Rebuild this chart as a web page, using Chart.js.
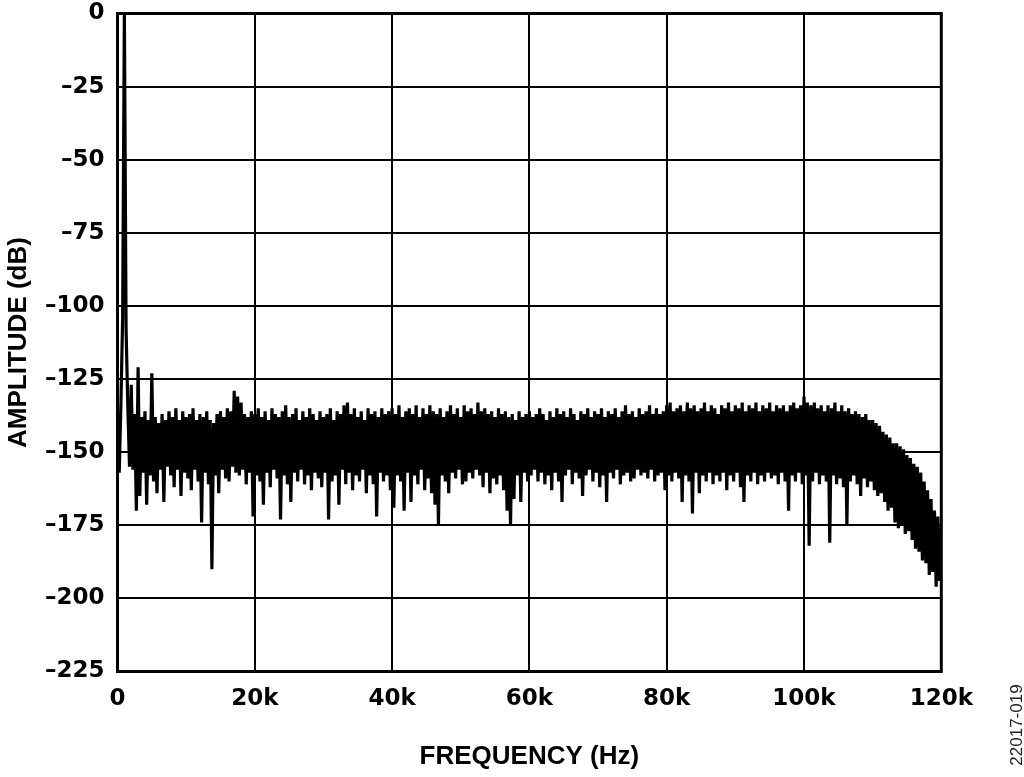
<!DOCTYPE html>
<html>
<head>
<meta charset="utf-8">
<script src="https://cdn.jsdelivr.net/npm/chart.js@4/dist/chart.umd.min.js"></script>
<style>
html,body{margin:0;padding:0;background:#fff;}
#wrap{width:1024px;height:777px;position:relative;}
</style>
</head>
<body>
<div id="wrap"><canvas id="c" width="1024" height="777"></canvas></div>
<script>
// FFT bin spacing (Hz): each array below holds consecutive 250 Hz bins
const BIN_HZ = 250;
const xTickValues = [0, 20000, 40000, 60000, 80000, 100000, 120000];
const yTickValues = [0, -25, -50, -75, -100, -125, -150, -175, -200, -225];
const xTitle = 'FREQUENCY (Hz)';
const yTitle = 'AMPLITUDE (dB)';
const figureId = '22017-019';

// amplitude (dB), bins 0 .. 19.75 kHz
const amp0to20k = [
-140,-157,-133,-104,0,-108,-134,-155,-127,-156,-137,-170,-121,-165,-138,-157,-136,-168,-139,-158,
-123,-160,-138,-164,-140,-156,-137,-167,-139,-155,-136,-158,-138,-162,-135,-156,-139,-165,-136,-157,
-138,-159,-137,-163,-135,-156,-139,-160,-137,-174,-138,-157,-136,-161,-139,-190,-140,-158,-137,-164,
-136,-156,-138,-159,-135,-160,-136,-155,-129,-157,-131,-158,-133,-156,-137,-161,-138,-157,-136,-172
];
// amplitude (dB), bins 20 .. 39.75 kHz
const amp20to40k = [
-137,-158,-135,-160,-138,-168,-136,-157,-139,-162,-135,-156,-137,-159,-138,-173,-136,-158,-134,-161,
-138,-167,-137,-157,-135,-160,-139,-156,-136,-161,-138,-158,-135,-163,-137,-157,-139,-159,-136,-162,
-138,-157,-137,-173,-135,-160,-139,-158,-136,-168,-137,-156,-134,-161,-133,-157,-137,-163,-135,-158,
-138,-160,-136,-156,-139,-164,-135,-158,-137,-161,-136,-172,-138,-157,-135,-160,-137,-158,-136,-163
];
// amplitude (dB), bins 40 .. 59.75 kHz
const amp40to60k = [
-135,-169,-137,-158,-134,-160,-138,-170,-136,-157,-135,-167,-137,-158,-134,-161,-138,-156,-135,-163,
-137,-159,-134,-164,-136,-168,-137,-175,-135,-158,-138,-160,-136,-164,-134,-157,-137,-159,-135,-156,
-138,-161,-134,-160,-136,-157,-135,-159,-137,-156,-133,-158,-136,-162,-135,-157,-137,-164,-136,-159,
-138,-161,-135,-158,-137,-163,-136,-170,-138,-175,-137,-166,-139,-158,-136,-167,-138,-157,-137,-160
];
// amplitude (dB), bins 60 .. 79.75 kHz
const amp60to80k = [
-136,-158,-138,-156,-137,-160,-135,-157,-137,-161,-139,-158,-136,-163,-138,-157,-135,-160,-137,-167,
-136,-158,-138,-156,-135,-161,-137,-157,-139,-159,-136,-165,-137,-158,-135,-156,-138,-160,-136,-157,
-137,-162,-135,-158,-138,-167,-136,-157,-137,-159,-135,-156,-138,-161,-136,-158,-134,-157,-137,-160,
-136,-159,-138,-156,-135,-158,-137,-157,-136,-159,-134,-156,-137,-160,-135,-158,-137,-157,-136,-163
];
// amplitude (dB), bins 80 .. 99.75 kHz
const amp80to100k = [
-134,-158,-133,-160,-136,-157,-135,-159,-134,-167,-136,-158,-133,-160,-135,-171,-134,-157,-136,-164,
-135,-158,-133,-160,-136,-157,-134,-161,-135,-158,-137,-160,-134,-157,-135,-163,-133,-158,-136,-160,
-134,-157,-135,-162,-133,-167,-136,-158,-134,-160,-135,-157,-133,-161,-136,-158,-134,-160,-135,-157,
-133,-159,-136,-158,-134,-161,-135,-157,-134,-160,-136,-170,-134,-158,-133,-160,-135,-157,-134,-161
];
// amplitude (dB), bins 100 .. 120 kHz
const amp100to120k = [
-131,-158,-133,-182,-134,-160,-133,-157,-135,-161,-134,-158,-136,-160,-134,-181,-135,-158,-133,-161,
-136,-159,-134,-162,-136,-175,-135,-160,-137,-158,-136,-161,-137,-165,-138,-159,-137,-162,-139,-160,
-139,-163,-140,-165,-141,-164,-143,-167,-144,-170,-145,-169,-147,-174,-147,-176,-148,-175,-149,-178,
-151,-177,-152,-180,-154,-183,-155,-184,-157,-187,-160,-188,-163,-192,-166,-191,-170,-196,-172,-194,
-176
];

const amplitudes = [].concat(amp0to20k, amp20to40k, amp40to60k, amp60to80k, amp80to100k, amp100to120k);
const points = amplitudes.map((a, i) => ({ x: i * BIN_HZ, y: a }));

const TICK_FONT = { family: '"DejaVu Sans", "Liberation Sans", Arial, sans-serif', size: 23, weight: 'bold' };
const TITLE_FONT = { family: '"Liberation Sans", Arial, sans-serif', size: 26, weight: 'bold', lineHeight: 1.2 };

const frame = {
  id: 'frame',
  afterDatasetsDraw(chart) {
    const { ctx, chartArea: a } = chart;
    ctx.save();
    ctx.strokeStyle = '#000';
    ctx.lineWidth = 3;
    ctx.strokeRect(a.left, a.top, a.right - a.left, a.bottom - a.top);
    ctx.restore();
  },
  afterDraw(chart) {
    const { ctx } = chart;
    ctx.save();
    ctx.translate(1017, 725);
    ctx.rotate(-Math.PI / 2);
    ctx.fillStyle = '#222';
    ctx.font = '17px "Liberation Sans", Arial, sans-serif';
    ctx.textAlign = 'center';
    ctx.textBaseline = 'middle';
    ctx.fillText(figureId, 0, 0);
    ctx.restore();
  }
};

new Chart(document.getElementById('c'), {
  type: 'line',
  data: {
    datasets: [{
      data: points,
      borderColor: '#000',
      borderWidth: 3.2,
      borderJoinStyle: 'miter',
      pointRadius: 0,
      tension: 0,
      fill: false
    }]
  },
  options: {
    responsive: false,
    animation: false,
    events: [],
    parsing: false,
    normalized: true,
    layout: { padding: { top: 13.5, right: 82.7, left: 0, bottom: 0 } },
    plugins: { legend: { display: false }, tooltip: { enabled: false } },
    scales: {
      x: {
        type: 'linear',
        min: 0, max: 120000,
        afterFit(s) { s.height = 105.5; s.paddingLeft = 0; s.paddingRight = 0; },
        afterBuildTicks(s) { s.ticks = xTickValues.map(v => ({ value: v })); },
        grid: { color: '#000', lineWidth: 2, drawTicks: false },
        border: { display: true, color: '#000', width: 3 },
        ticks: {
          padding: 14,
          color: '#000',
          font: TICK_FONT,
          maxRotation: 0,
          autoSkip: false,
          callback: v => v === 0 ? '0' : (v / 1000) + 'k'
        },
        title: { display: true, text: xTitle, color: '#000', font: TITLE_FONT, padding: { top: 0, bottom: 5 } }
      },
      y: {
        type: 'linear',
        min: -225, max: 0,
        afterFit(s) { s.width = 117.5; s.paddingTop = 0; s.paddingBottom = 0; },
        afterBuildTicks(s) { s.ticks = yTickValues.map(v => ({ value: v })); },
        grid: { color: '#000', lineWidth: 2, drawTicks: false },
        border: { display: true, color: '#000', width: 3 },
        ticks: {
          padding: 13,
          color: '#000',
          font: TICK_FONT,
          autoSkip: false,
          callback: v => v === 0 ? '0' : '\u2013' + Math.abs(v)
        },
        title: { display: true, text: yTitle, color: '#000', font: TITLE_FONT, padding: { top: 3, bottom: 0 } }
      }
    }
  },
  plugins: [frame]
});
</script>
</body>
</html>
